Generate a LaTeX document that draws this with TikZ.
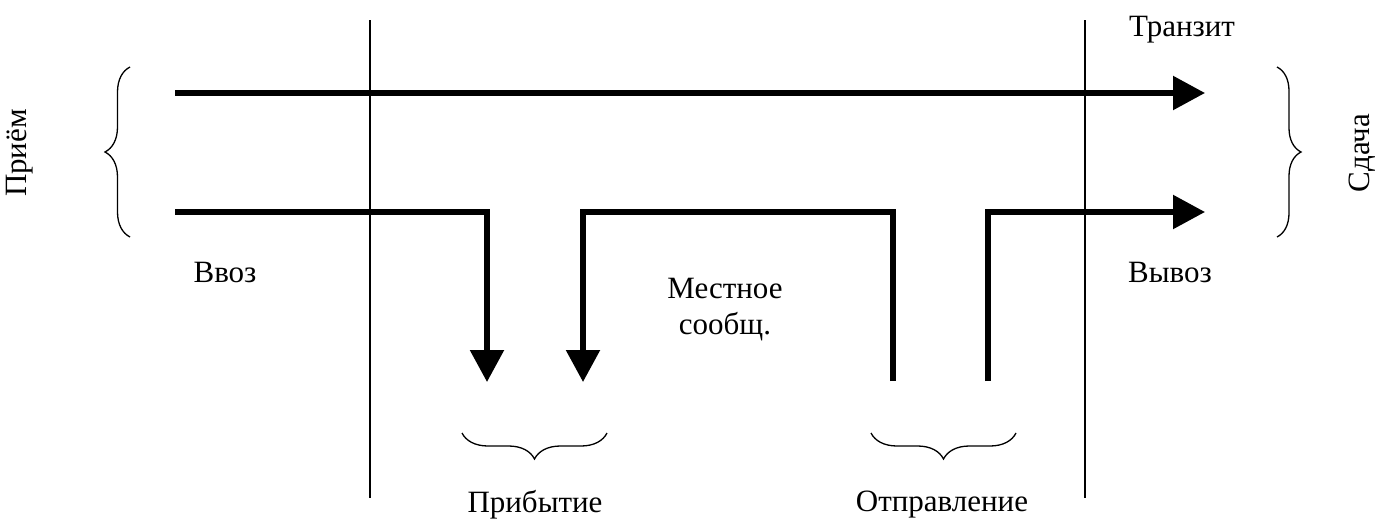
\documentclass[tikz,border=0pt]{standalone}
\usepackage{fontspec}
\setmainfont{Liberation Serif}
\usetikzlibrary{arrows.meta,decorations.pathreplacing}
\begin{document}
\begin{tikzpicture}[x=1pt,y=-1pt,
  thin line/.style={line width=1.5pt},
  flow/.style={line width=5.5pt,miter limit=10,line join=miter},
  flowtip/.style={flow,-{Triangle[width=33pt,length=32pt]}},
  bracestyle/.style={line width=1.3pt,decorate,decoration={brace,amplitude=#1}},
  lbl/.style={font=\fontsize{31}{36}\selectfont,inner sep=0pt}]
\useasboundingbox (0,0) rectangle (1378,522);
% dividers
\coordinate (d1t) at (370,20); \coordinate (d1b) at (370,498);
\coordinate (d2t) at (1085,20); \coordinate (d2b) at (1085,498);
\draw[thin line] (d1t) -- (d1b);
\draw[thin line] (d2t) -- (d2b);
% transit
\coordinate (ts) at (175,93); \coordinate (te) at (1205,93);
\draw[flowtip] (ts) -- (te);
% import -> arrival
\coordinate (is) at (175,212); \coordinate (ie) at (487,382);
\draw[flowtip] (is) -| (ie);
% local
\coordinate (ls) at (893,381); \coordinate (lc) at (583,212); \coordinate (le) at (583,382);
\draw[flowtip] (ls) |- (lc) -- (le);
% export
\coordinate (es) at (988,381); \coordinate (ee) at (1205,212);
\draw[flowtip] (es) |- (ee);
% braces
\coordinate (lb1) at (130,237); \coordinate (lb2) at (130,67);
\draw[bracestyle=25pt] (lb1) -- (lb2);
\coordinate (rb1) at (1277,67); \coordinate (rb2) at (1277,237);
\draw[bracestyle=24pt] (rb1) -- (rb2);
\coordinate (bb1) at (607,433); \coordinate (bb2) at (462,433);
\draw[bracestyle=26pt] (bb1) -- (bb2);
\coordinate (bc1) at (1016,433); \coordinate (bc2) at (871,433);
\draw[bracestyle=26pt] (bc1) -- (bc2);
% labels
\node[lbl,rotate=90] (priem) at (20,153) {Приём};
\node[lbl,rotate=90] (sdacha) at (1362,153) {Сдача};
\node[lbl] (tranzit) at (1182,30) {Транзит};
\node[lbl] (vvoz) at (225,272) {Ввоз};
\node[lbl] (vyvoz) at (1170,272) {Вывоз};
\node[lbl,align=center] (mestn) at (725,310) {Местное\\сообщ.};
\node[lbl] (prib) at (535,505) {Прибытие};
\node[lbl] (otpr) at (942,505) {Отправление};
\end{tikzpicture}
\end{document}
